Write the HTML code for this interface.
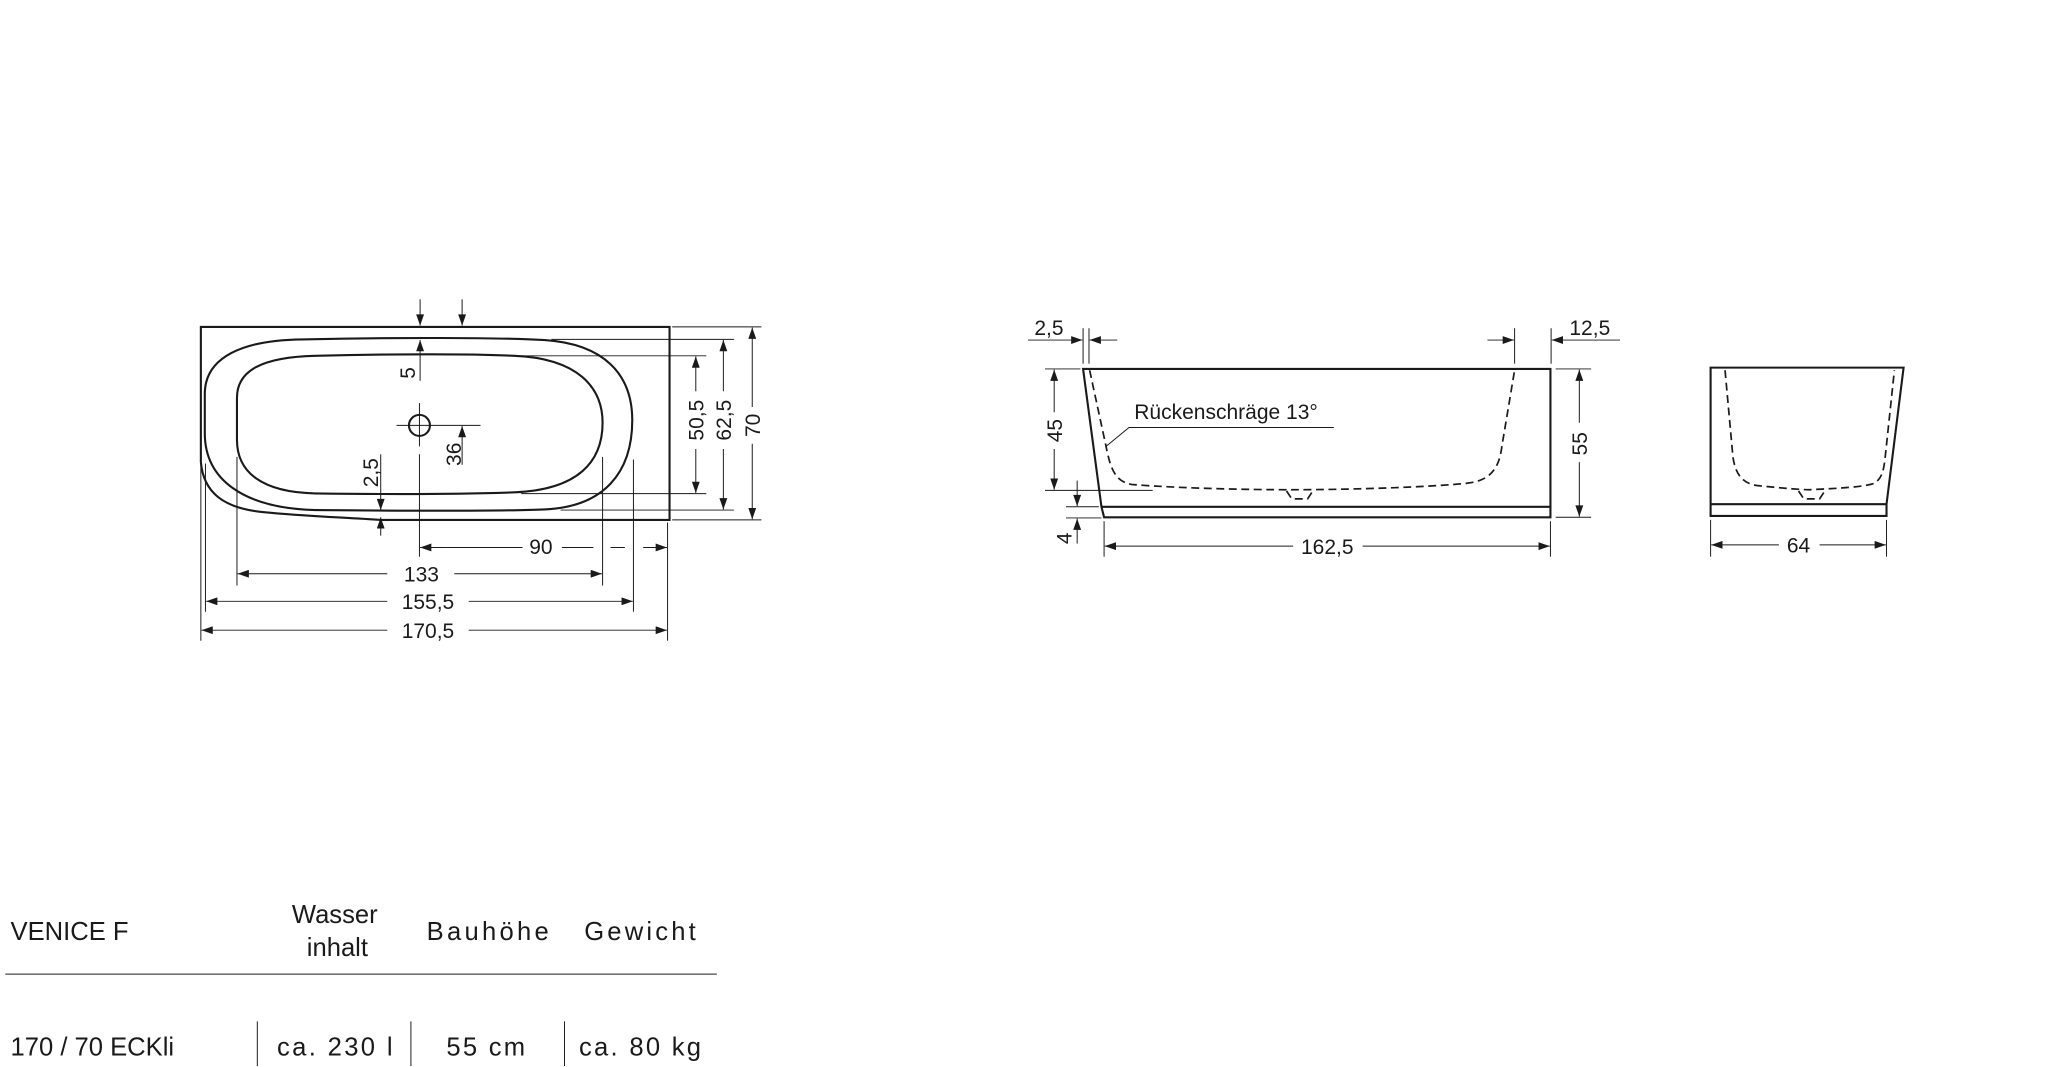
<!DOCTYPE html>
<html><head><meta charset="utf-8"><style>
html,body{margin:0;padding:0;background:#fff;}
svg{display:block;}
text{font-family:"Liberation Sans",sans-serif;fill:#1a1a1a;}
</style></head><body>
<svg width="2048" height="1067" viewBox="0 0 1560 812.7" xmlns="http://www.w3.org/2000/svg">
<defs>
<marker id="a" viewBox="0 0 10 7" refX="10" refY="3.5" markerWidth="9" markerHeight="6" markerUnits="userSpaceOnUse" orient="auto-start-reverse"><path d="M0,0 L10,3.5 L0,7 z" fill="#1a1a1a"/></marker>
</defs>
<g fill="none" stroke="#1a1a1a" stroke-width="1.6">
<path d="M153,352 V249 H510 V396 H290 C260,394 230,393 200,390 C170,387 155,375 153,352"/>
<path d="M230,258.5 C300,257 380,257 415,259 C460,262 481.6,285 481.6,320 C481.6,360 460,386 415,388 C380,389.5 300,389 240,388.5 C185,387 156,365 156,330 L156,300 C156,272 185,259 230,258.5 Z"/>
<path d="M240,271 C300,269.5 360,269.5 392,271 C440,273 459,295 459,322 C459,352 440,373 392,375 C350,376.5 290,376.5 240,375.8 C200,375 180.5,360 180.5,335 L180.5,303 C180.5,282 200,272 240,271 Z"/>
<ellipse cx="319.5" cy="324" rx="8" ry="8"/>
<path d="M825,281 H1181 V394 H841 L839,386 Z"/>
<path d="M839,386 H1181"/>
<path d="M1303,280 H1450 L1437,384 V393 H1303 Z"/>
<path d="M1303,384 H1437"/>
</g>
<g fill="none" stroke="#1a1a1a" stroke-width="1.3" stroke-dasharray="6,3.5">
<path d="M830,282 L842.5,340 C846,358 850,367 862,369 C900,372 950,373 983,373 C1030,373 1090,371 1118,368 C1135,366 1142,357 1144,340 L1153.7,282"/>
<path d="M980,374 L984,380 H996 L1000,374"/>
<path d="M1314,282 L1320,348 C1322,362 1328,369 1340,370 C1360,372 1372,373 1378,373 C1400,372 1420,371 1428,368 C1434,364 1435,357 1436,348 L1443,282"/>
<path d="M1370,374 L1374,380 H1386 L1390,374"/>
</g>
<g fill="none" stroke="#1a1a1a" stroke-width="0.75">
<line x1="320" y1="228" x2="320" y2="248" marker-end="url(#a)"/>
<line x1="352" y1="228" x2="352" y2="248" marker-end="url(#a)"/>
<line x1="320" y1="290" x2="320" y2="259" marker-end="url(#a)"/>
<line x1="302" y1="324" x2="366" y2="324"/>
<line x1="319.5" y1="307" x2="319.5" y2="340"/>
<line x1="319.5" y1="346" x2="319.5" y2="424"/>
<line x1="352" y1="354" x2="352" y2="324.5" marker-end="url(#a)"/>
<line x1="290" y1="346" x2="290" y2="388.5" marker-end="url(#a)"/>
<line x1="290" y1="408" x2="290" y2="394" marker-end="url(#a)"/>
<line x1="508.5" y1="398" x2="508.5" y2="488"/>
<line x1="153" y1="354" x2="153" y2="488"/>
<line x1="156.5" y1="353" x2="156.5" y2="466"/>
<line x1="482.5" y1="350" x2="482.5" y2="466"/>
<line x1="180.5" y1="348" x2="180.5" y2="446"/>
<line x1="459" y1="348" x2="459" y2="446"/>
<line x1="340" y1="417" x2="320" y2="417" marker-end="url(#a)"/>
<path d="M340,417 H398 M428,417 H452 M465,417 H476 M490,417 H508" />
<line x1="490" y1="417" x2="508" y2="417" marker-end="url(#a)"/>
<line x1="295" y1="437" x2="181" y2="437" marker-end="url(#a)"/>
<line x1="346" y1="437" x2="458.5" y2="437" marker-end="url(#a)"/>
<line x1="295" y1="458" x2="157" y2="458" marker-end="url(#a)"/>
<line x1="357" y1="458" x2="482" y2="458" marker-end="url(#a)"/>
<line x1="295" y1="480" x2="153.5" y2="480" marker-end="url(#a)"/>
<line x1="357" y1="480" x2="508" y2="480" marker-end="url(#a)"/>
<line x1="397" y1="271" x2="538" y2="271"/>
<line x1="397" y1="376" x2="538" y2="376"/>
<line x1="420" y1="258.5" x2="559" y2="258.5"/>
<line x1="427" y1="388.5" x2="559" y2="388.5"/>
<line x1="512" y1="249" x2="580" y2="249"/>
<line x1="512" y1="396" x2="580" y2="396"/>
<line x1="530" y1="298" x2="530" y2="271.5" marker-end="url(#a)"/>
<line x1="530" y1="342" x2="530" y2="375.5" marker-end="url(#a)"/>
<line x1="551" y1="298" x2="551" y2="259" marker-end="url(#a)"/>
<line x1="551" y1="342" x2="551" y2="388" marker-end="url(#a)"/>
<line x1="573" y1="310" x2="573" y2="249.5" marker-end="url(#a)"/>
<line x1="573" y1="338" x2="573" y2="395.5" marker-end="url(#a)"/>
<line x1="825" y1="250" x2="825" y2="277"/>
<line x1="829.5" y1="250" x2="829.5" y2="277"/>
<line x1="783" y1="259" x2="824.5" y2="259" marker-end="url(#a)"/>
<line x1="851" y1="259" x2="830" y2="259" marker-end="url(#a)"/>
<line x1="1153.7" y1="250" x2="1153.7" y2="277"/>
<line x1="1181.5" y1="250" x2="1181.5" y2="277"/>
<line x1="1133" y1="259" x2="1153.2" y2="259" marker-end="url(#a)"/>
<line x1="1234" y1="259" x2="1182" y2="259" marker-end="url(#a)"/>
<line x1="796" y1="281" x2="823" y2="281"/>
<line x1="796" y1="373.5" x2="878" y2="373.5"/>
<line x1="803" y1="314" x2="803" y2="281.5" marker-end="url(#a)"/>
<line x1="803" y1="342" x2="803" y2="373" marker-end="url(#a)"/>
<line x1="812" y1="386" x2="837" y2="386"/>
<line x1="812" y1="394.5" x2="839" y2="394.5"/>
<line x1="820.5" y1="366" x2="820.5" y2="385.5" marker-end="url(#a)"/>
<line x1="820.5" y1="414" x2="820.5" y2="395" marker-end="url(#a)"/>
<path d="M842.5,340 L860,325.6 H1016"/>
<line x1="1185" y1="281" x2="1212" y2="281"/>
<line x1="1185" y1="394" x2="1212" y2="394"/>
<line x1="1203" y1="322" x2="1203" y2="281.5" marker-end="url(#a)"/>
<line x1="1203" y1="352" x2="1203" y2="393.5" marker-end="url(#a)"/>
<line x1="841" y1="397" x2="841" y2="424"/>
<line x1="1181" y1="397" x2="1181" y2="424"/>
<line x1="985" y1="416" x2="841.5" y2="416" marker-end="url(#a)"/>
<line x1="1038" y1="416" x2="1180.5" y2="416" marker-end="url(#a)"/>
<line x1="1303" y1="396" x2="1303" y2="424"/>
<line x1="1437" y1="396" x2="1437" y2="424"/>
<line x1="1355" y1="415" x2="1303.5" y2="415" marker-end="url(#a)"/>
<line x1="1386" y1="415" x2="1436.5" y2="415" marker-end="url(#a)"/>
<line x1="4" y1="742" x2="546" y2="742"/>
<line x1="196" y1="778" x2="196" y2="812"/>
<line x1="313" y1="778" x2="313" y2="812"/>
<line x1="430" y1="778" x2="430" y2="812"/>
</g>
<g font-size="16">
<text x="412" y="422" text-anchor="middle">90</text>
<text x="321" y="443" text-anchor="middle">133</text>
<text x="326" y="464" text-anchor="middle">155,5</text>
<text x="326" y="486" text-anchor="middle">170,5</text>
<text transform="translate(316,284) rotate(-90)" text-anchor="middle">5</text>
<text transform="translate(351,346) rotate(-90)" text-anchor="middle">36</text>
<text transform="translate(288,360) rotate(-90)" text-anchor="middle">2,5</text>
<text transform="translate(536,320) rotate(-90)" text-anchor="middle">50,5</text>
<text transform="translate(557,320) rotate(-90)" text-anchor="middle">62,5</text>
<text transform="translate(579,324) rotate(-90)" text-anchor="middle">70</text>
<text x="799" y="255" text-anchor="middle">2,5</text>
<text x="1211" y="255" text-anchor="middle">12,5</text>
<text x="864" y="319">Rückenschräge 13°</text>
<text transform="translate(809,328) rotate(-90)" text-anchor="middle">45</text>
<text transform="translate(816,410) rotate(-90)" text-anchor="middle">4</text>
<text transform="translate(1209,338) rotate(-90)" text-anchor="middle">55</text>
<text x="1011" y="422" text-anchor="middle">162,5</text>
<text x="1370" y="421" text-anchor="middle">64</text>
</g>
<g font-size="19.5">
<text x="8" y="716">VENICE F</text>
<text x="255" y="703" text-anchor="middle">Wasser</text>
<text x="257" y="728" text-anchor="middle">inhalt</text>
<text x="325" y="716" textLength="93">Bauhöhe</text>
<text x="445" y="716" textLength="85">Gewicht</text>
<text x="8" y="804">170 / 70 ECKli</text>
<text x="211" y="804" textLength="88">ca.  230 l</text>
<text x="340" y="804" textLength="60">55 cm</text>
<text x="441" y="804" textLength="93">ca.  80 kg</text>
</g>
</svg>
</body></html>
